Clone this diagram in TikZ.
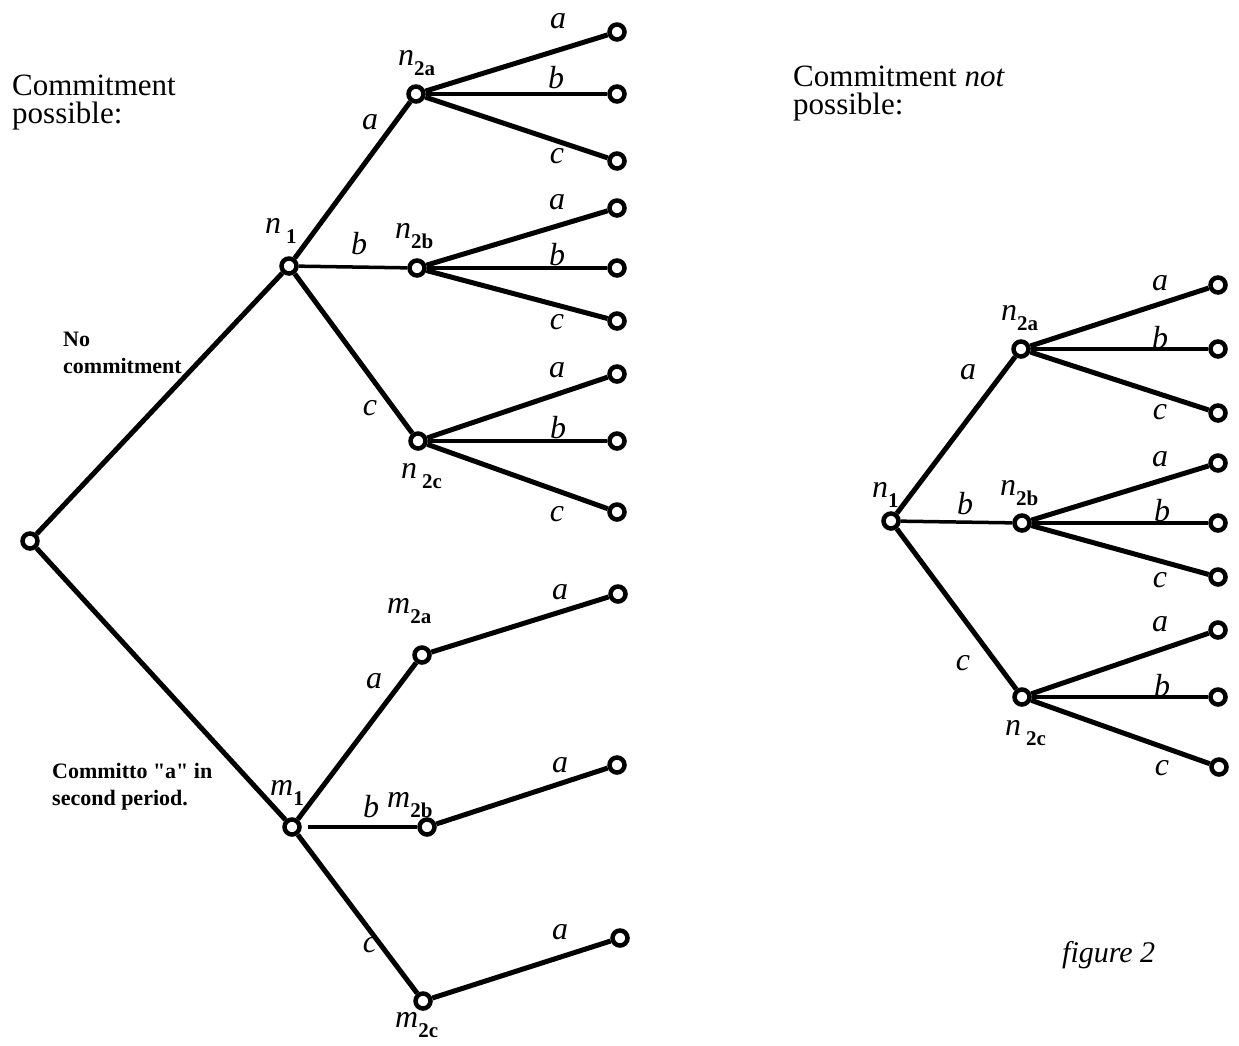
\documentclass[tikz,border=0pt]{standalone}
\usepackage{fontspec}
\setmainfont{Liberation Serif}
\newcommand\sbx[1]{\raisebox{-10pt}{\fontsize{21}{21}\selectfont\bfseries\upshape #1}}
\newcommand\sq{\XeTeXglyph\XeTeXcharglyph"22\relax}
\begin{document}
\begin{tikzpicture}[x=1pt,y=-1pt,
  vtx/.style={circle, draw, line width=4.5pt, fill=white, inner sep=0pt, minimum size=15pt},
  edge/.style={line width=5pt},
  hedge/.style={line width=3.5pt},
  lbl/.style={font=\fontsize{32}{32}\selectfont\itshape, inner sep=0pt},
  nlbl/.style={font=\fontsize{32}{32}\selectfont\itshape, inner sep=0pt, anchor=base west},
  head/.style={font=\fontsize{31}{28}\selectfont, inner sep=0pt, anchor=base west, align=left},
  small/.style={font=\fontsize{22}{27}\selectfont\bfseries, inner sep=0pt, anchor=base west, align=left}]
\useasboundingbox (0,0) rectangle (1239,1045);

% ---------- left tree: vertices
\node[vtx] (r) at (30,541) {};
\node[vtx] (n1) at (289,266) {};
\node[vtx] (n2a) at (416,94) {};
\node[vtx] (n2b) at (417,268) {};
\node[vtx] (n2c) at (418,441) {};
\node[vtx] (la1) at (617,32) {};
\node[vtx] (lb1) at (617,94) {};
\node[vtx] (lc1) at (617,161) {};
\node[vtx] (la2) at (617,208) {};
\node[vtx] (lb2) at (617,268) {};
\node[vtx] (lc2) at (617,321) {};
\node[vtx] (la3) at (617,374) {};
\node[vtx] (lb3) at (617,441) {};
\node[vtx] (lc3) at (617,512) {};
\node[vtx] (m1) at (292,827) {};
\node[vtx] (m2a) at (422,655) {};
\node[vtx] (m2b) at (427,827) {};
\node[vtx] (m2c) at (423,1001) {};
\node[vtx] (ma) at (618,594) {};
\node[vtx] (mb) at (617,765) {};
\node[vtx] (mc) at (620,938) {};

% ---------- left tree: edges
\draw[edge] (r) -- (n1);
\draw[edge] (r) -- (m1);
\draw[edge] (n1) -- (n2a);
\draw[hedge] (n1) -- (n2b);
\draw[edge] (n1) -- (n2c);
\draw[edge] (n2a) -- (la1);
\draw[hedge] (n2a) -- (lb1);
\draw[edge] (n2a) -- (lc1);
\draw[edge] (n2b) -- (la2);
\draw[hedge] (n2b) -- (lb2);
\draw[edge] (n2b) -- (lc2);
\draw[edge] (n2c) -- (la3);
\draw[hedge] (n2c) -- (lb3);
\draw[edge] (n2c) -- (lc3);
\draw[edge] (m1) -- (m2a);
\draw[hedge, shorten <=6pt] (m1) -- (m2b);
\draw[edge] (m1) -- (m2c);
\draw[edge] (m2a) -- (ma);
\draw[edge] (m2b) -- (mb);
\draw[edge] (m2c) -- (mc);

% ---------- left tree: labels
\node[head] (h1) at (12,123) {Commitment\\possible:};
\node[small] (t1) at (63,373) {No\\commitment};
\node[small] (t2) at (52,805) {Committo \sq a\sq{} in\\second period.};

\node[nlbl] (ln1) at (265,233) {n\hspace{5pt}\sbx{1}};
\node[nlbl] (ln2a) at (398,65) {n\sbx{2a}};
\node[nlbl] (ln2b) at (395,238) {n\sbx{2b}};
\node[nlbl] (ln2c) at (401,478) {n\hspace{5pt}\sbx{2c}};
\node[nlbl] (lm1) at (270,795) {m\sbx{1}};
\node[nlbl] (lm2a) at (387,613) {m\sbx{2a}};
\node[nlbl] (lm2b) at (387,807) {m\sbx{2b}};
\node[nlbl] (lm2c) at (395,1027) {m\sbx{2c}};

\node[lbl] (e1) at (370,122) {a};
\node[lbl] (e2) at (359,244) {b};
\node[lbl] (e3) at (370,408) {c};
\node[lbl] (e4) at (558,21) {a};
\node[lbl] (e5) at (556,78) {b};
\node[lbl] (e6) at (557,156) {c};
\node[lbl] (e7) at (557,202) {a};
\node[lbl] (e8) at (557,255) {b};
\node[lbl] (e9) at (557,322) {c};
\node[lbl] (e10) at (557,370) {a};
\node[lbl] (e11) at (558,428) {b};
\node[lbl] (e12) at (557,514) {c};
\node[lbl] (e13) at (374,681) {a};
\node[lbl] (e14) at (371,807) {b};
\node[lbl] (e15) at (370,945) {c};
\node[lbl] (e16) at (560,592) {a};
\node[lbl] (e17) at (560,765) {a};
\node[lbl] (e18) at (560,932) {a};

% ---------- right tree: vertices
\node[vtx] (R1) at (891,521) {};
\node[vtx] (R2a) at (1021,349) {};
\node[vtx] (R2b) at (1022,523) {};
\node[vtx] (R2c) at (1022,697) {};
\node[vtx] (Ra1) at (1218,285) {};
\node[vtx] (Rb1) at (1218,349) {};
\node[vtx] (Rc1) at (1218,413) {};
\node[vtx] (Ra2) at (1218,463) {};
\node[vtx] (Rb2) at (1218,523) {};
\node[vtx] (Rc2) at (1218,577) {};
\node[vtx] (Ra3) at (1218,630) {};
\node[vtx] (Rb3) at (1218,697) {};
\node[vtx] (Rc3) at (1219,767) {};

% ---------- right tree: edges
\draw[edge] (R1) -- (R2a);
\draw[hedge] (R1) -- (R2b);
\draw[edge] (R1) -- (R2c);
\draw[edge] (R2a) -- (Ra1);
\draw[hedge] (R2a) -- (Rb1);
\draw[edge] (R2a) -- (Rc1);
\draw[edge] (R2b) -- (Ra2);
\draw[hedge] (R2b) -- (Rb2);
\draw[edge] (R2b) -- (Rc2);
\draw[edge] (R2c) -- (Ra3);
\draw[hedge] (R2c) -- (Rb3);
\draw[edge] (R2c) -- (Rc3);

% ---------- right tree: labels
\node[head] (h2) at (793,114) {Commitment \textit{not}\\possible:};
\node[nlbl] (lN1) at (872,497) {n\sbx{1}};
\node[nlbl] (lN2a) at (1001,320) {n\sbx{2a}};
\node[nlbl] (lN2b) at (1000,495) {n\sbx{2b}};
\node[nlbl] (lN2c) at (1005,735) {n\hspace{5pt}\sbx{2c}};

\node[lbl] (E1) at (968,372) {a};
\node[lbl] (E2) at (965,504) {b};
\node[lbl] (E3) at (963,663) {c};
\node[lbl] (E4) at (1160,283) {a};
\node[lbl] (E5) at (1160,338) {b};
\node[lbl] (E6) at (1160,412) {c};
\node[lbl] (E7) at (1160,459) {a};
\node[lbl] (E8) at (1162,511) {b};
\node[lbl] (E9) at (1160,580) {c};
\node[lbl] (E10) at (1160,624) {a};
\node[lbl] (E11) at (1162,686) {b};
\node[lbl] (E12) at (1162,768) {c};

\node[font=\fontsize{30}{30}\selectfont\itshape, inner sep=0pt, anchor=base west] (fig) at (1062,962) {figure 2};
\end{tikzpicture}
\end{document}
